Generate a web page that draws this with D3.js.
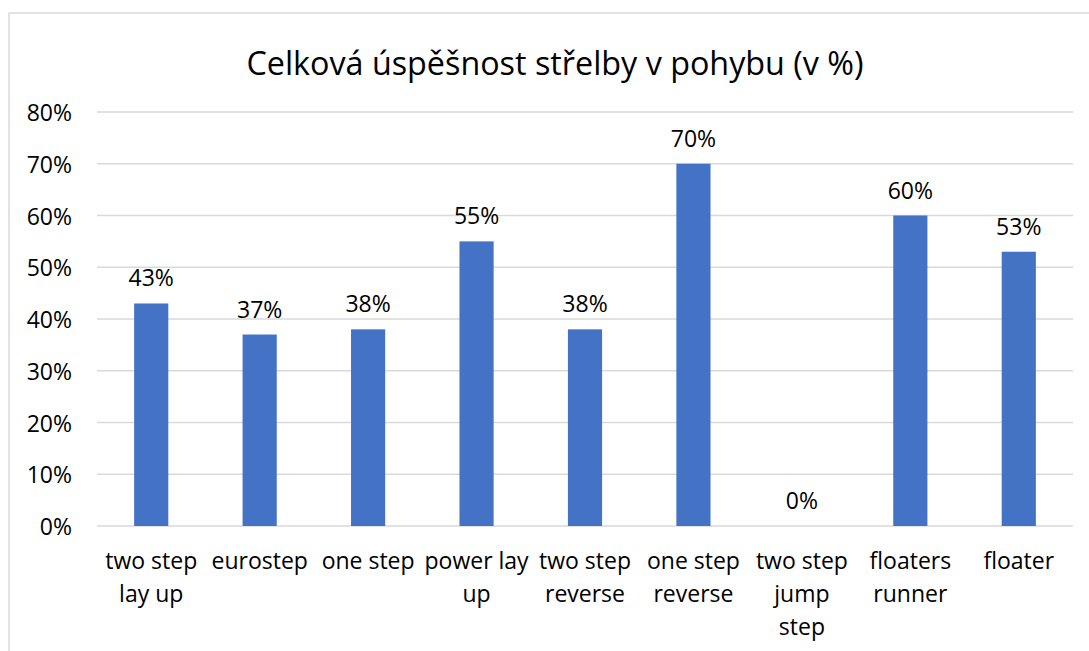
<!DOCTYPE html>
<html>
<head>
<meta charset="utf-8">
<script src="https://cdn.jsdelivr.net/npm/d3@7"></script>
<style>
  body { margin: 0; background: #fff; }
  text { font-family: "Open Sans", Lato, sans-serif; fill: #000; }
</style>
</head>
<body>
<div id="chart"></div>
<script>
const title = "Celková úspěšnost střelby v pohybu (v %)";
const categories = [
  ["two step", "lay up"],
  ["eurostep"],
  ["one step"],
  ["power lay", "up"],
  ["two step", "reverse"],
  ["one step", "reverse"],
  ["two step", "jump", "step"],
  ["floaters", "runner"],
  ["floater"]
];
const values = [43, 37, 38, 55, 38, 70, 0, 60, 53];
const yTicks = [0, 10, 20, 30, 40, 50, 60, 70, 80];

const width = 1089;
const height = 651;
const margin = { top: 112, right: 16, bottom: 125, left: 97 };

const svg = d3.select("#chart")
  .append("svg")
  .attr("width", width)
  .attr("height", height);

// outer frame
svg.append("rect")
  .attr("x", 9)
  .attr("y", 13)
  .attr("width", 1200)
  .attr("height", 800)
  .attr("fill", "none")
  .attr("stroke", "#d9d9d9")
  .attr("stroke-width", 1.5);

svg.append("text")
  .attr("x", 555)
  .attr("y", 62)
  .attr("text-anchor", "middle")
  .attr("dominant-baseline", "central")
  .attr("font-size", 32.3)
  .text(title);

const x = d3.scaleBand()
  .domain(d3.range(categories.length))
  .range([margin.left, width - margin.right]);

const y = d3.scaleLinear()
  .domain([0, 80])
  .range([height - margin.bottom, margin.top]);

//gridlines
svg.selectAll("line.grid")
  .data(yTicks)
  .enter()
  .append("line")
  .attr("class", "grid")
  .attr("x1", margin.left)
  .attr("x2", width - margin.right)
  .attr("y1", (d) => y(d))
  .attr("y2", (d) => y(d))
  .attr("stroke", "#d9d9d9")
  .attr("stroke-width", 1.5);

//y tick labels
svg.selectAll("text.ytick")
  .data(yTicks)
  .enter()
  .append("text")
  .attr("class", "ytick")
  .attr("x", 72)
  .attr("y", (d) => y(d))
  .attr("text-anchor", "end")
  .attr("dominant-baseline", "central")
  .attr("font-size", 23)
  .text((d) => d + "%");

const barW = x.bandwidth() * 0.315;

//bars
svg.selectAll("rect.bar")
  .data(values)
  .enter()
  .append("rect")
  .attr("class", "bar")
  .attr("x", (d, i) => x(i) + x.bandwidth() / 2 - barW / 2)
  .attr("y", (d) => y(d))
  .attr("width", barW)
  .attr("height", (d) => y(0) - y(d))
  .attr("fill", "#4472c4");

//value labels
svg.selectAll("text.val")
  .data(values)
  .enter()
  .append("text")
  .attr("class", "val")
  .attr("x", (d, i) => x(i) + x.bandwidth() / 2)
  .attr("y", (d) => y(d) - 26)
  .attr("text-anchor", "middle")
  .attr("dominant-baseline", "central")
  .attr("font-size", 23)
  .text((d) => d + "%");

//category labels
const cat = svg.selectAll("g.cat")
  .data(categories)
  .enter()
  .append("g")
  .attr("class", "cat")
  .attr("transform", (d, i) => `translate(${x(i) + x.bandwidth() / 2},0)`);

cat.selectAll("text")
  .data((d) => d)
  .enter()
  .append("text")
  .attr("x", 0)
  .attr("y", (d, j) => 560 + j * 33)
  .attr("text-anchor", "middle")
  .attr("dominant-baseline", "central")
  .attr("font-size", 23)
  .text((d) => d);
</script>
</body>
</html>
